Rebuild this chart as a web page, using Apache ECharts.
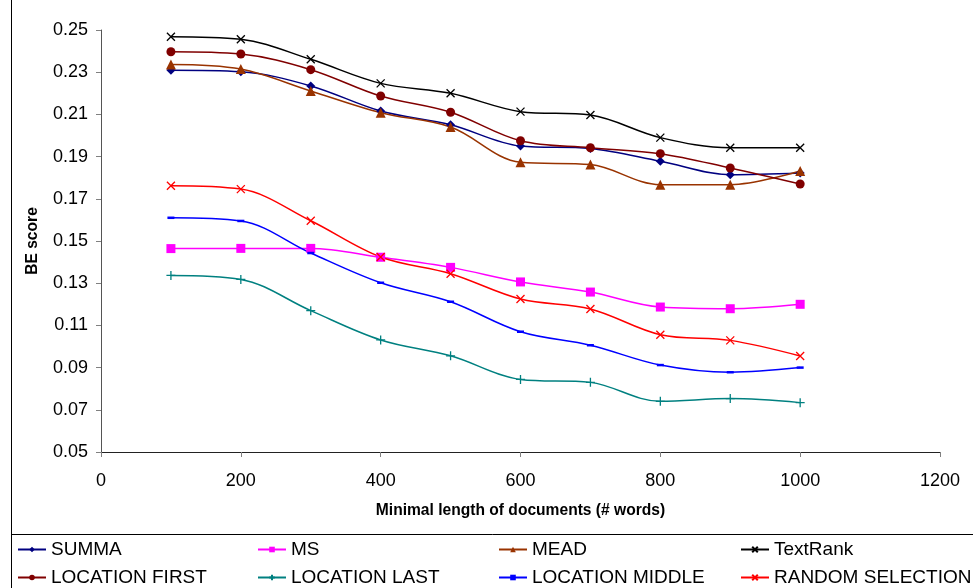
<!DOCTYPE html>
<html>
<head>
<meta charset="utf-8">
<script src="https://cdn.jsdelivr.net/npm/echarts@6/dist/echarts.min.js"></script>
<style>
  html, body { margin: 0; padding: 0; background: #fff; }
  #chart { width: 973px; height: 588px; }
</style>
</head>
<body>
<div id="chart"></div>
<script>
// minimal length of documents (# words)
var lengths = [100, 200, 300, 400, 500, 600, 700, 800, 900, 1000]

// BE scores per method
var summa = [0.2309, 0.2302, 0.2235, 0.2116, 0.2051, 0.195, 0.1938, 0.1878, 0.1814, 0.1822]
var ms = [0.1464, 0.1465, 0.1465, 0.1423, 0.1375, 0.1306, 0.1258, 0.1187, 0.1179, 0.12]
var mead = [0.2337, 0.2315, 0.2211, 0.2108, 0.204, 0.1873, 0.1862, 0.1767, 0.1767, 0.1832]
var textRank = [0.2468, 0.2456, 0.2361, 0.2247, 0.22, 0.2113, 0.2097, 0.199, 0.1942, 0.1942]
var locFirst = [0.2397, 0.2386, 0.2312, 0.2187, 0.211, 0.1975, 0.1942, 0.1914, 0.1846, 0.177]
var locLast = [0.1337, 0.1318, 0.117, 0.1031, 0.0956, 0.0844, 0.083, 0.074, 0.0753, 0.0734]
var locMiddle = [0.161, 0.1595, 0.1443, 0.1302, 0.1212, 0.107, 0.1006, 0.0912, 0.0878, 0.09]
var randomSel = [0.1762, 0.1746, 0.1596, 0.1424, 0.1345, 0.1225, 0.1178, 0.1056, 0.1029, 0.0955]

var FONT = 'Liberation Sans, Arial, sans-serif'
var crossPath = 'path://M0,0L10,10M10,0L0,10'
var plusPath = 'path://M5,0L5,10M0,5L10,5'
var dashPath = 'path://M0,0L10,0L10,3L0,3Z'

function pairs(vals) {
  return vals.map(function (v, i) { return [lengths[i], v] })
}

function makeSeries(name, vals, color, symbol, size, stroked) {
  return {
    name: name,
    type: 'line',
    smooth: 0.35,
    data: pairs(vals),
    symbol: symbol,
    symbolSize: size,
    showAllSymbol: true,
    lineStyle: { color: color, width: 1.5 },
    itemStyle: stroked
      ? { color: color, borderColor: color, borderWidth: 1.3 }
      : { color: color, borderWidth: 0 },
    emphasis: { disabled: true }
  }
}

var chart = echarts.init(document.getElementById('chart'))

// legend laid out in 4 columns x 2 rows
var legendPos = [
  ['SUMMA', 17, 540], ['MS', 257, 540], ['MEAD', 498, 540], ['TextRank', 740, 540],
  ['LOCATION FIRST', 17, 568], ['LOCATION LAST', 257, 568], ['LOCATION MIDDLE', 498, 568], ['RANDOM SELECTION', 740, 568]
]

var option = {
  animation: false,
  backgroundColor: '#fff',
  grid: { left: 101, right: 33, top: 30, bottom: 136 },
  legend: legendPos.map(function (p) {
    return {
      data: [p[0]],
      left: p[1],
      top: p[2],
      padding: 0,
      itemWidth: 28,
      itemHeight: 7,
      itemGap: 4,
      textStyle: { fontFamily: FONT, fontSize: 19, color: '#000' },
      selectedMode: false
    }
  }),
  xAxis: {
    type: 'value',
    min: 0,
    max: 1200,
    interval: 200,
    name: 'Minimal length of documents (# words)',
    nameLocation: 'middle',
    nameGap: 51,
    nameTextStyle: { fontFamily: FONT, fontSize: 15.6, fontWeight: 'bold', color: '#000' },
    axisLine: { lineStyle: { color: '#222', width: 1 } },
    axisTick: { show: true, length: 5, lineStyle: { color: '#808080' } },
    axisLabel: {
      fontFamily: FONT, fontSize: 18, color: '#000', margin: 20,
      formatter: function (v) { return String(v) }
    },
    splitLine: { show: false }
  },
  yAxis: {
    type: 'value',
    min: 0.05,
    max: 0.25,
    interval: 0.02,
    name: 'BE score',
    nameLocation: 'middle',
    nameGap: 60,
    nameTextStyle: { fontFamily: FONT, fontSize: 15.6, fontWeight: 'bold', color: '#000' },
    axisLine: { show: true, lineStyle: { color: '#555', width: 1 } },
    axisTick: { show: true, length: 5, lineStyle: { color: '#808080' } },
    axisLabel: {
      fontFamily: FONT, fontSize: 18, color: '#000', margin: 13,
      formatter: function (v) { return v.toFixed(2) }
    },
    splitLine: { show: false }
  },
  graphic: [
    { type: 'line', shape: { x1: 11.5, y1: 0, x2: 11.5, y2: 588 }, style: { stroke: '#000', lineWidth: 1 } },
    { type: 'rect', shape: { x: 11.5, y: 534.5, width: 970, height: 60 }, style: { fill: 'none', stroke: '#000', lineWidth: 1 } }
  ],
  series: [
    makeSeries('SUMMA', summa, '#000080', 'diamond', 9, false),
    makeSeries('MS', ms, '#FF00FF', 'rect', 9, false),
    makeSeries('MEAD', mead, '#993300', 'triangle', 10, false),
    makeSeries('TextRank', textRank, '#000000', crossPath, 8, true),
    makeSeries('LOCATION FIRST', locFirst, '#800000', 'circle', 9, false),
    makeSeries('LOCATION LAST', locLast, '#008080', plusPath, 9, true),
    makeSeries('LOCATION MIDDLE', locMiddle, '#0000FF', dashPath, [7, 2.5], false),
    makeSeries('RANDOM SELECTION', randomSel, '#FF0000', crossPath, 8, true)
  ]
}

chart.setOption(option)
</script>
</body>
</html>
